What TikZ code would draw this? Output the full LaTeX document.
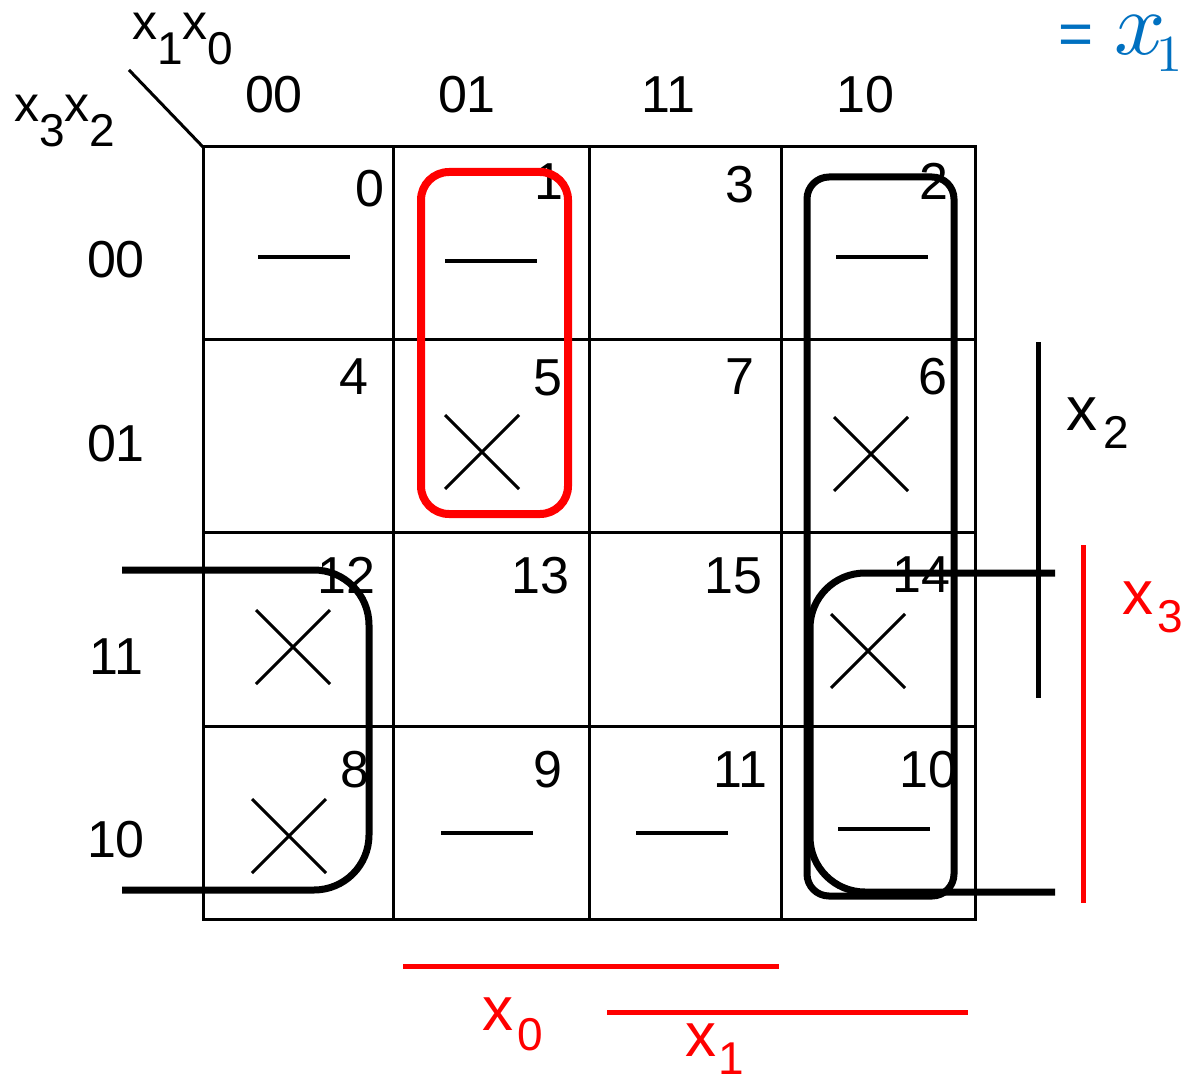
\documentclass[tikz,border=0pt]{standalone}
\usepackage{fontspec}
\setmainfont{Liberation Sans}
\usepackage{tikz}
\usetikzlibrary{positioning}
\definecolor{kred}{RGB}{255,0,0}
\definecolor{kblue}{RGB}{0,112,192}
\newcommand{\lowsub}[2]{\raisebox{-#1}{\fontsize{46}{46}\selectfont #2}}
\tikzset{
  gridline/.style={line width=3pt, line cap=rect},
  cellnum/.style={inner sep=0pt, outer sep=0pt, anchor=base east, font=\fontsize{52}{52}\selectfont},
  headlbl/.style={inner sep=0pt, outer sep=0pt, anchor=base, font=\fontsize{52}{52}\selectfont},
  varlbl/.style={inner sep=0pt, outer sep=0pt, anchor=base west},
  dcline/.style={line width=4.5pt},
  crossmark/.style={line width=3pt},
  loopblack/.style={line width=7pt, rounded corners=55pt},
  loopred/.style={draw=kred, line width=8pt, rounded corners=28pt},
  bar/.style={line width=5pt}
}

\begin{document}
\begin{tikzpicture}[x=1pt, y=-1pt]
\useasboundingbox (0,0) rectangle (1185,1078);
% map frame and cells
\draw[gridline] (203,147) rectangle (975,919);
\foreach \gx in {393,589,781} \draw[gridline] (\gx,147) -- (\gx,919);
\foreach \gy in {339,532,726} \draw[gridline] (203,\gy) -- (975,\gy);
\draw[gridline] (130,71) -- (203,147);
% variable names
\node[varlbl] (colvars) at (132,40) {\fontsize{50}{50}\selectfont x\lowsub{25pt}{1}x\lowsub{25pt}{0}};
\node[varlbl] (rowvars) at (14,122) {\fontsize{50}{50}\selectfont x\lowsub{25pt}{3}x\lowsub{25pt}{2}};
% column and row codes
\foreach \code/\hx in {00/274, 01/467, 11/668, 10/865}
  \node[headlbl] (col\code) at (\hx,113) {\code};
\foreach \code/\hy in {00/277, 01/461, 11/674, 10/857}
  \node[headlbl] (row\code) at (116,\hy) {\code};
% cell indices
\foreach \num/\px/\py in {0/384/207, 1/563/200, 3/754/202, 2/948/200,
    4/368/394, 5/562/395, 7/754/394, 6/947/394,
    12/375/593, 13/569/593, 15/762/593, 14/950/592,
    8/369/787, 9/562/787, 11/767/787, 10/957/787}
  \node[cellnum] (c\num) at (\px,\py) {\num};
% don't cares
\foreach \dx/\dy in {258/257, 445/261, 836/257, 441/833, 636/833, 838/829}
  \draw[dcline] (\dx,\dy) -- ++(92,0);
\foreach \cx/\cy in {482/452, 871/454, 293/647, 289/836, 868/651}
  \draw[crossmark] (\cx-37,\cy-37) -- (\cx+37,\cy+37) (\cx-37,\cy+37) -- (\cx+37,\cy-37);
% groups
\draw[loopred] (421,172) rectangle (568,514);
\draw[line width=7pt, rounded corners=22pt] (807,177) rectangle (954,896);
\draw[loopblack] (122,570) -- (369,570) -- (369,890) -- (122,890);
\draw[loopblack] (1055,573) -- (810,573) -- (810,892) -- (1055,892);
% variable bars
\draw[bar] (1038,342) -- (1038,698);
\node[varlbl] (lblx2) at (1066,430) {\fontsize{62}{62}\selectfont x\hspace{6pt}\lowsub{18pt}{2}};
\draw[bar, kred] (1083,545) -- (1083,903);
\node[varlbl, text=kred] (lblx3) at (1122,614) {\fontsize{62}{62}\selectfont x\hspace{4pt}\lowsub{18pt}{3}};
\draw[bar, kred] (403,966) -- (779,966);
\node[varlbl, text=kred] (lblx0) at (482,1030) {\fontsize{62}{62}\selectfont x\hspace{4pt}\lowsub{20pt}{0}};
\draw[bar, kred] (607,1012) -- (968,1012);
\node[varlbl, text=kred] (lblx1) at (685,1056) {\fontsize{62}{62}\selectfont x\hspace{2pt}\lowsub{18pt}{1}};
% result
\node[varlbl, text=kblue] (result) at (1058,55) {\fontsize{60}{60}\selectfont =\hspace{21pt}\scalebox{9}{\normalsize$x$}\kern-9pt\raisebox{-17pt}{\scalebox{5.2}{\normalsize$1$}}};
\end{tikzpicture}
\end{document}
